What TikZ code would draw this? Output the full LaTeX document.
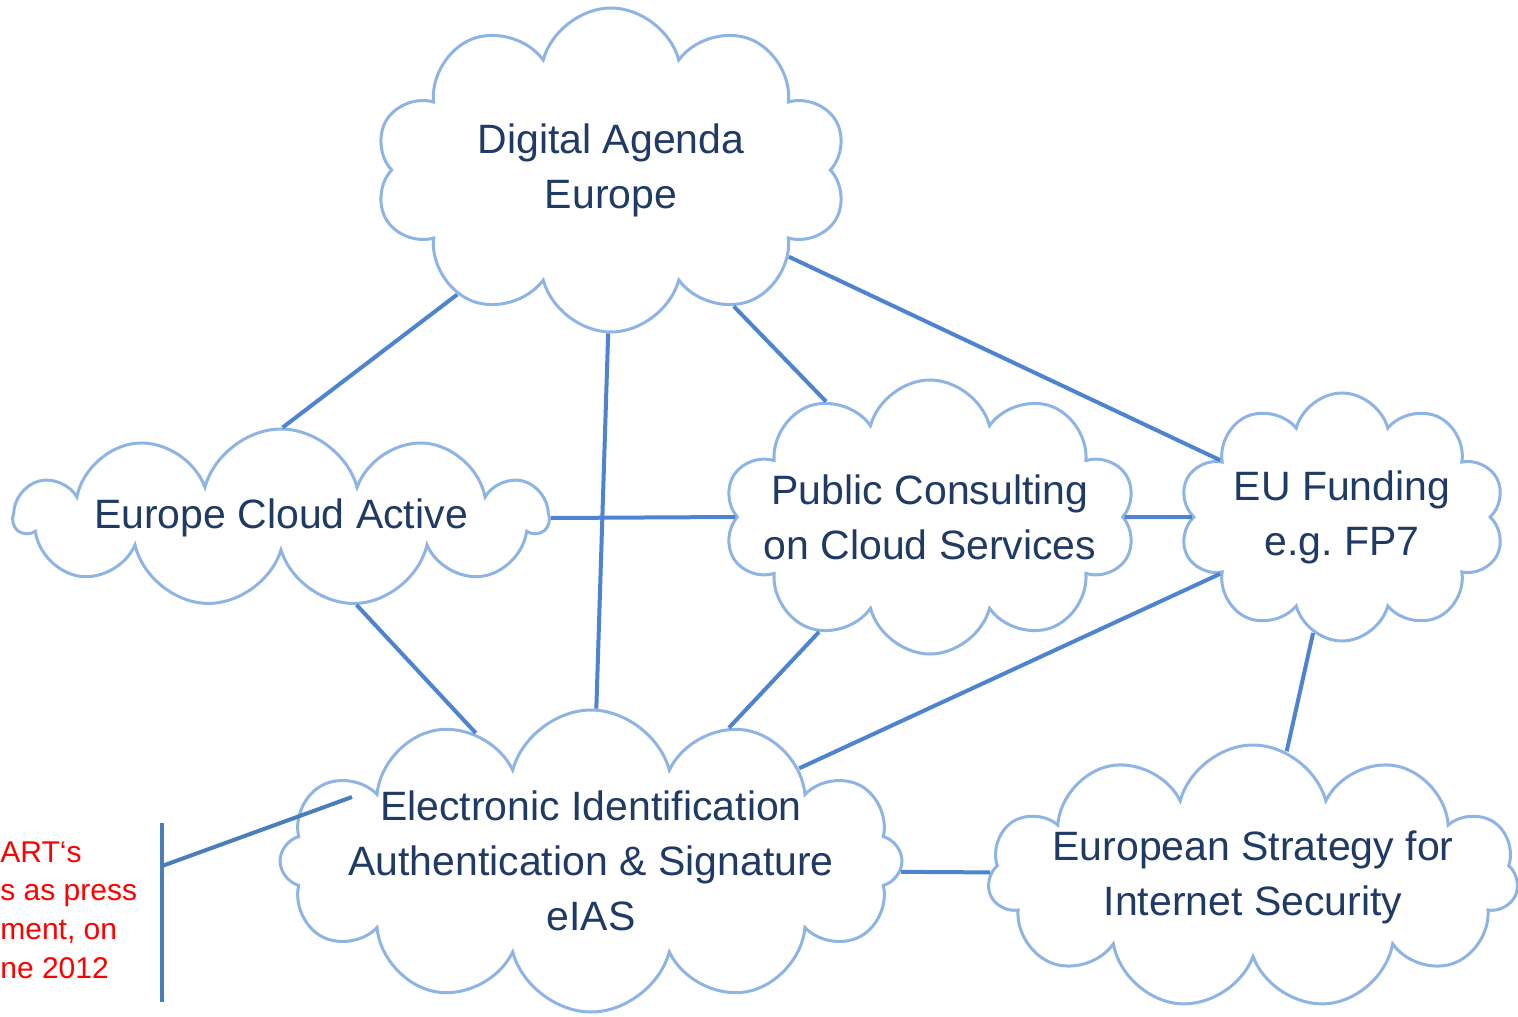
\documentclass[tikz,border=0pt]{standalone}
\usepackage{fontspec}
\setmainfont{Liberation Sans}
\usepackage{xcolor}
\usetikzlibrary{shapes.symbols}
\usetikzlibrary{calc}

\definecolor{cloudblue}{HTML}{8EB4E3}
\definecolor{linkblue}{HTML}{4D83CF}
\definecolor{bracketblue}{HTML}{4A7EBB}
\definecolor{textnavy}{HTML}{1F3A64}

\begin{document}
\begin{tikzpicture}[
    x=0.5pt, y=-0.5pt,
    cloudnode/.style={cloud, cloud puffs=10, cloud ignores aspect, draw=cloudblue, line width=1.5pt,
        fill=white, inner sep=0pt},
    cloudtext/.style={text=textnavy, align=center, inner sep=0pt,
        font=\fontsize{20.5}{27.5}\selectfont},
    link/.style={draw=linkblue, line width=2pt},
    note/.style={text=red, align=left, inner sep=0pt, font=\fontsize{15}{19.3}\selectfont}
]
    \useasboundingbox (0,0) rectangle (1518,1016);

    % Clouds
    \node[cloudnode, minimum width=236pt, minimum height=162pt,
        label={[cloudtext]center:Digital Agenda\\Europe}] (dae) at (611,170) {};
    \node[cloudnode, cloud puffs=11, minimum width=266pt, minimum height=89pt,
        label={[cloudtext]center:Europe Cloud Active}] (eca) at (281,518) {};
    \node[cloudnode, minimum width=206pt, minimum height=137pt,
        label={[cloudtext]center:Public Consulting\\on Cloud Services}] (pcc) at (930,517) {};
    \node[cloudnode, minimum width=163pt, minimum height=124pt,
        label={[cloudtext]center:EU Funding\\e.g.\ FP7}] (euf) at (1342,517) {};
    \node[cloudnode, cloud puffs=12, minimum width=311pt, minimum height=151pt,
        label={[cloudtext]center:Electronic Identification\\Authentication \& Signature\\eIAS}] (eias) at (591,861) {};
    \node[cloudnode, cloud puffs=11, minimum width=265pt, minimum height=132pt,
        label={[cloudtext]center:European Strategy for\\Internet Security}] (esis) at (1253,877) {};

    % Links between clouds
    \draw[link] (dae.219) -- (eca.89);
    \draw[link] (dae.269) -- (eias.88);
    \draw[link] (dae.312) -- (pcc.132);
    \draw[link] (dae.334) -- (euf.155);
    \draw[link] (eca.0) -- (pcc.180);
    \draw[link] (pcc.0) -- (euf.180);
    \draw[link] (eca.311) -- (eias.132);
    \draw[link] (pcc.226) -- (eias.44);
    \draw[link] (euf.205) -- (eias.24);
    \draw[link] (euf.256) -- (esis.75);
    \draw[link] (eias.358) -- (esis.179);

    % Side note with bracket
    \coordinate (btop) at (162,823);
    \coordinate (bbot) at (162,1002);
    \coordinate (bmid) at (162,866);
    \coordinate (bptr) at (352,797);
    \draw[bracketblue, line width=2pt] (btop) -- (bbot);
    \draw[bracketblue, line width=2pt] (bmid) -- (bptr);
    \node[note, anchor=west] (side) at (0,910) {ART‘s\\s as press\\ment, on\\ne 2012};
\end{tikzpicture}
\end{document}
